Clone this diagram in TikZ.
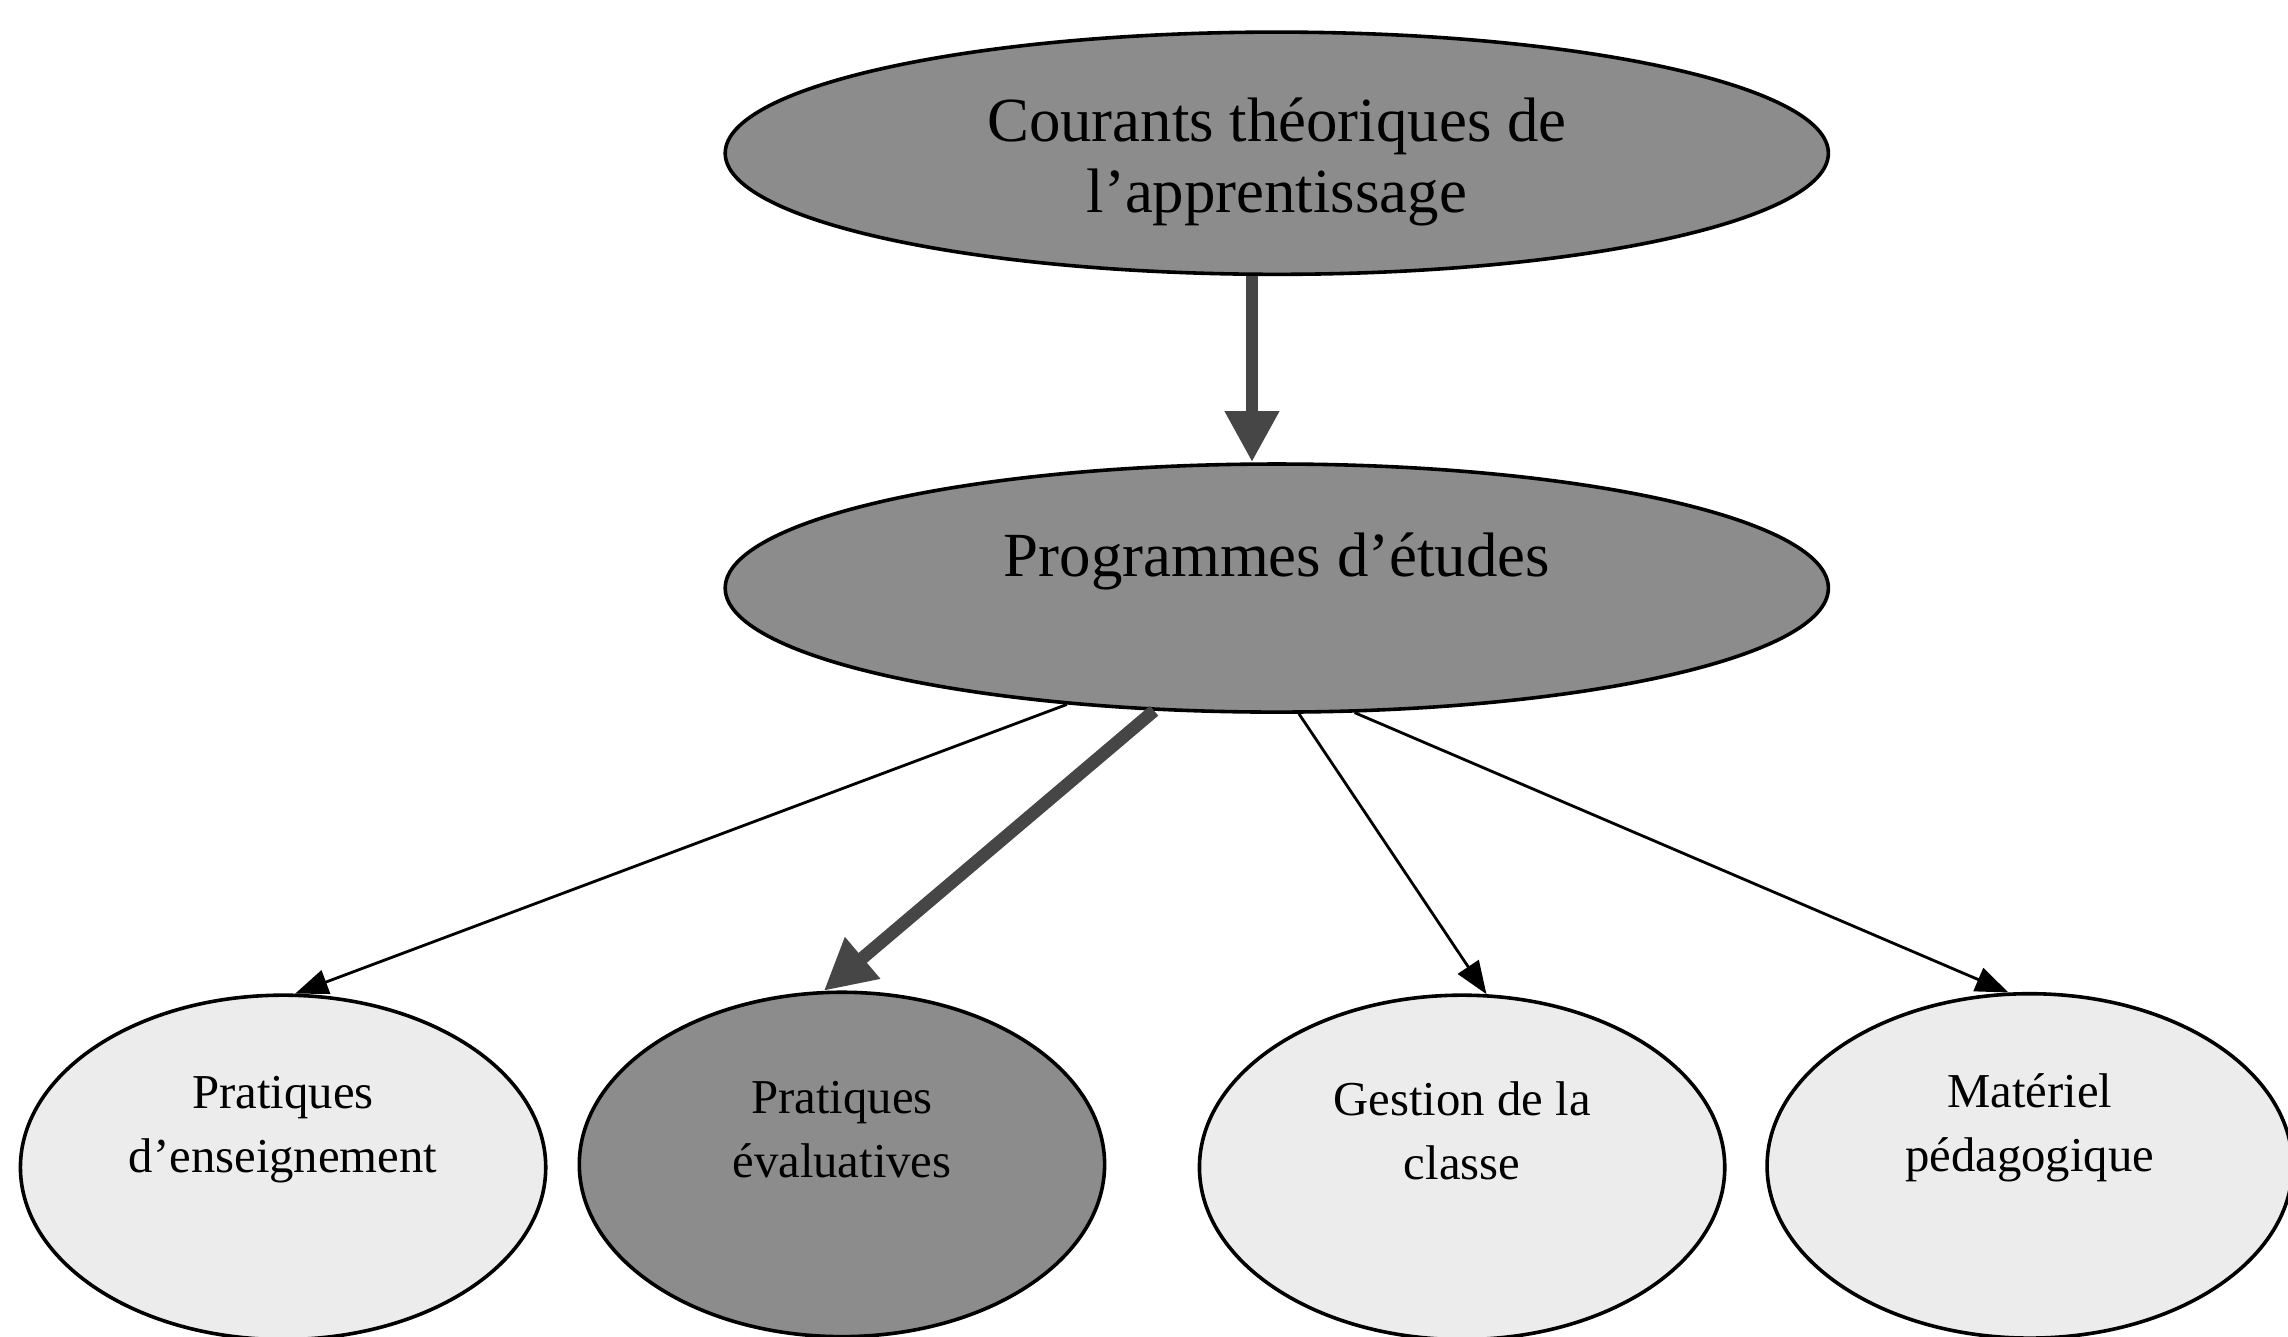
\documentclass[tikz,border=0pt]{standalone}
\usepackage{fontspec}
\setmainfont{Liberation Serif}
\usetikzlibrary{shapes.geometric, arrows.meta}
\definecolor{grey140}{RGB}{140,140,140}
\definecolor{grey236}{RGB}{236,236,236}
\definecolor{grey70}{RGB}{70,70,70}

\begin{document}
\begin{tikzpicture}[
          x = 0.2mm, y = -0.2mm,
          thinedge/.style = {draw, line width = 1.1pt, -{Triangle[length=4.5mm, width=3.4mm]}},
          thickedge/.style = {draw = grey70, line width = 5pt, -{Triangle[length=7mm, width=7mm]}}
        ]
          \tikzstyle {dark} = [draw, line width = 1.4pt, shape = ellipse, fill = grey140, inner sep = 0]
          \tikzstyle {light} = [draw, line width = 1.4pt, shape = ellipse, fill = grey236, inner sep = 0,
                                minimum width = 72mm, minimum height = 47.2mm]
          \tikzstyle {big} = [font = \fontsize{24.5}{27.5}\selectfont, align = center]
          \tikzstyle {small} = [font = \fontsize{19}{25}\selectfont, align = center]
          \useasboundingbox (0,0) rectangle (1568,916);
          % place nodes
          \path node (T) [dark, minimum width = 151.2mm, minimum height = 33.2mm] at (875,105) {};
          \path node (M) [dark, minimum width = 151.2mm, minimum height = 34mm] at (875,403) {};
          \path node (T-t) [big] at (875,111) {Courants théoriques de\\l’apprentissage};
          \path node (M-t) [big] at (875,385) {Programmes d’études};
          \path node (ens) [light] at (194,800) {};
          \path node (eval) [light, fill = grey140] at (577,798) {};
          \path node (gest) [light] at (1002,800) {};
          \path node (mat) [light] at (1391,799) {};
          \path node (ens-t) [small] at (194,774) {Pratiques\\d’enseignement};
          \path node (eval-t) [small] at (577,774) {Pratiques\\évaluatives};
          \path node (gest-t) [small] at (1002,775) {Gestion de la\\classe};
          \path node (mat-t) [small] at (1391,773) {Matériel\\pédagogique};
          % place edges
          \draw [thickedge] ([xshift=-3.4mm]T.south) -- ([xshift=-3.4mm]M.north);
          \draw [thickedge] (M.225) -- (eval.96);
          \foreach \s/\t in {M.209/ens.86, M.280/gest.82, M.302/mat.97}
            { \draw [thinedge] (\s) -- (\t) ; } ;
        \end{tikzpicture}
\end{document}
